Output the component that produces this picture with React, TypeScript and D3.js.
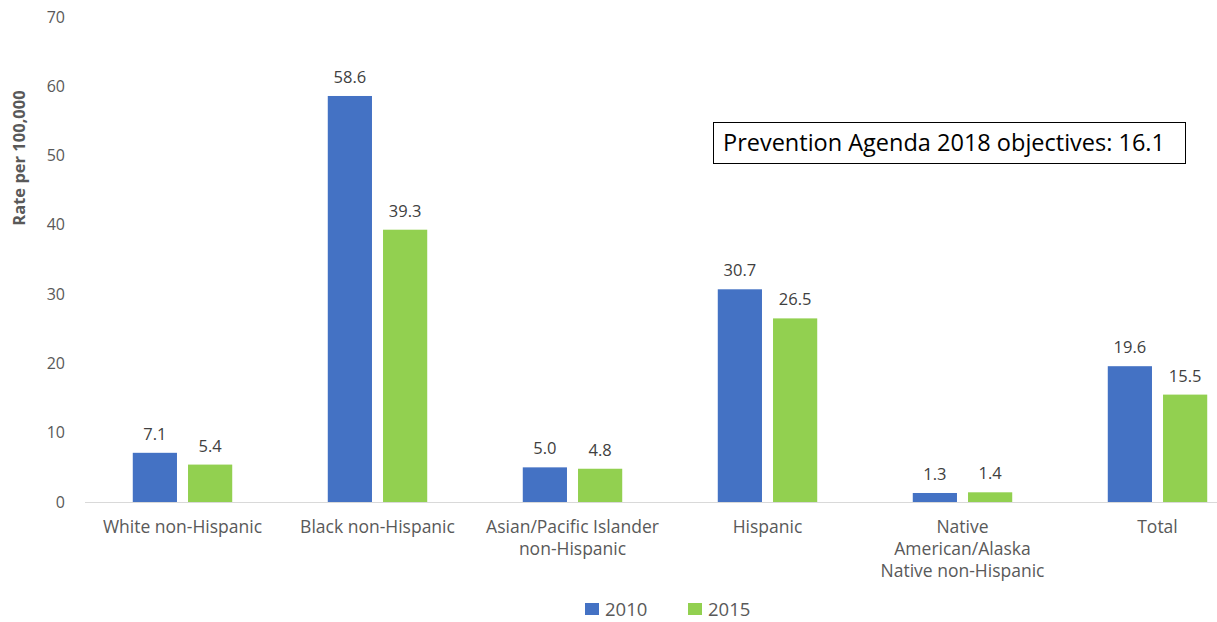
import React from "react";
import * as d3 from "d3";

const categories: string[][] = [
  ["White non-Hispanic"],
  ["Black non-Hispanic"],
  ["Asian/Pacific Islander", "non-Hispanic"],
  ["Hispanic"],
  ["Native", "American/Alaska", "Native non-Hispanic"],
  ["Total"],
];
const seriesNames = ["2010", "2015"];
const values2010 = [7.1, 58.6, 5.0, 30.7, 1.3, 19.6];
const values2015 = [5.4, 39.3, 4.8, 26.5, 1.4, 15.5];
const yTicks = [0, 10, 20, 30, 40, 50, 60, 70];
const colors = ["#4472C4", "#92D050"];
const annotation = "Prevention Agenda 2018 objectives: 16.1";
const yTitle = "Rate per 100,000";

const W = 1217;
const H = 622;
const font = "'Open Sans', 'Noto Sans', sans-serif";

export default function App() {
  const left = 85;
  const top = 17;
  const bottom = 502;
  const keys = categories.map((c) => c.join(" "));
  const x0 = d3.scaleBand<string>().domain(keys).range([left, left + 195 * 6]).paddingInner(0.49).paddingOuter(0.245);
  const x1 = d3.scaleBand<string>().domain(seriesNames).range([0, x0.bandwidth()]).paddingInner(0.2);
  const y = d3.scaleLinear().domain([0, 70]).range([bottom, top]);
  const series = [values2010, values2015];

  return (
    <svg width={W} height={H} style={{ position: "absolute", left: 0, top: 0, background: "#fff" }}>
      <rect x={0} y={0} width={W} height={H} fill="#fff" />
      {yTicks.map((t) => (
        <text key={t} x={65} y={y(t)} dy="0.35em" textAnchor="end" fontFamily={font} fontSize={16} fill="#595959">
          {t}
        </text>
      ))}
      <text
        transform={`translate(25, 158) rotate(-90)`}
        textAnchor="middle"
        fontFamily={font}
        fontSize={16.5}
        fontWeight="bold"
        fill="#595959"
      >
        {yTitle}
      </text>
      <line x1={left} x2={W} y1={bottom + 0.5} y2={bottom + 0.5} stroke="#D9D9D9" strokeWidth={1} />
      {keys.map((k, i) => (
        <g key={k} transform={`translate(${x0(k)},0)`}>
          {seriesNames.map((s, j) => {
            const v = series[j][i];
            const bx = x1(s)!;
            return (
              <g key={s}>
                <rect x={bx} y={y(v)} width={x1.bandwidth()} height={bottom - y(v)} fill={colors[j]} />
                <text
                  x={bx + x1.bandwidth() / 2}
                  y={y(v) - 13}
                  textAnchor="middle"
                  fontFamily={font}
                  fontSize={16.5}
                  fill="#404040"
                >
                  {v.toFixed(1)}
                </text>
              </g>
            );
          })}
          {categories[i].map((line, li) => (
            <text
              key={li}
              x={x0.bandwidth() / 2}
              y={533 + li * 22}
              textAnchor="middle"
              fontFamily={font}
              fontSize={17.5}
              fill="#595959"
            >
              {line}
            </text>
          ))}
        </g>
      ))}
      <rect x={713.5} y={122.5} width={472} height={41} fill="#fff" stroke="#000" strokeWidth={1} />
      <text x={723} y={151} fontFamily={font} fontSize={23.5} fill="#000">
        {annotation}
      </text>
      {seriesNames.map((s, j) => (
        <g key={s} transform={`translate(${585 + j * 103}, 603)`}>
          <rect x={0} y={0} width={14} height={12} fill={colors[j]} />
          <text x={20} y={6} dy="0.36em" fontFamily={font} fontSize={18.5} fill="#595959">
            {s}
          </text>
        </g>
      ))}
    </svg>
  );
}
